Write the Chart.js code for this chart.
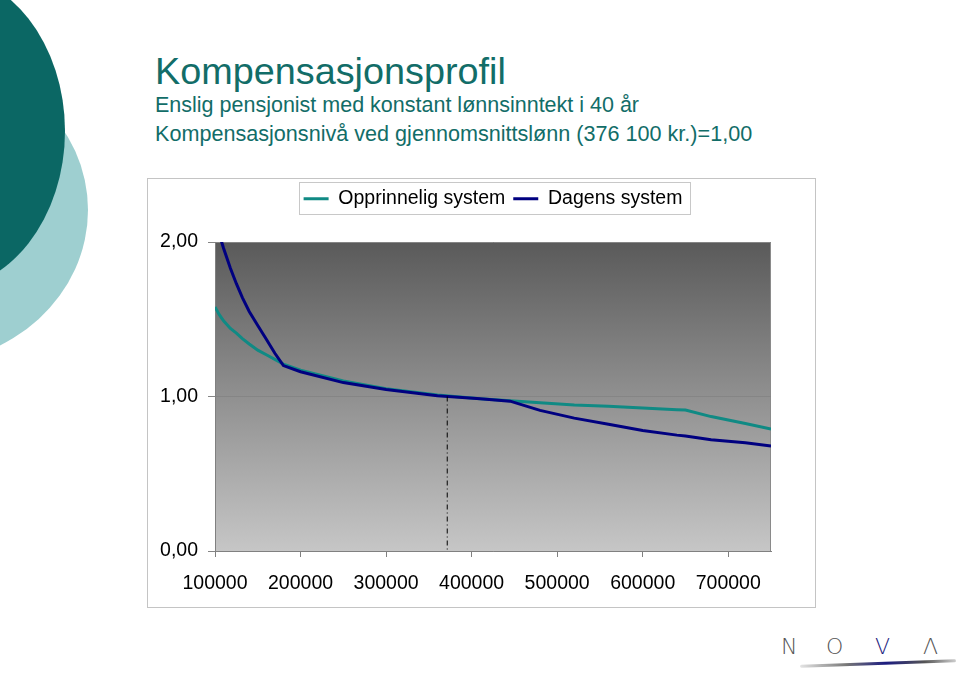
<!DOCTYPE html>
<html>
<head>
<meta charset="utf-8">
<script src="https://cdn.jsdelivr.net/npm/chart.js@4"></script>
<style>
  html, body { margin: 0; padding: 0; background: #fff; }
  body { width: 960px; height: 673px; position: relative; overflow: hidden; font-family: "Liberation Sans", Arial, sans-serif; }
  .blob { position: absolute; border-radius: 50%; }
  .txt { position: absolute; white-space: nowrap; line-height: 1; color: #126d68; }
  #chartBox { position: absolute; left: 147px; top: 178px; width: 667px; height: 428px; border: 1px solid #c4c4c4; }
  #logo { position: absolute; left: 778px; top: 632px; width: 180px; height: 40px; }
  #logo span { position: absolute; top: 4px; font-family: "DejaVu Sans", sans-serif; font-weight: 200; font-size: 22px; color: #555; line-height: 1; }
  #swoosh { position: absolute; left: 22px; top: 30px; width: 156px; height: 3px; border-radius: 2px;
    background: linear-gradient(to right, rgba(120,120,120,0.2), #777 30%, #1c1c80 55%, #555 80%, rgba(90,90,90,0.3)); transform: rotate(-2deg); }
</style>
</head>
<body>
<div class="blob" style="left:-248px; top:56px; width:336px; height:308px; background:#9ecfd0;"></div>
<div class="blob" style="left:-185px; top:-28px; width:250px; height:318px; background:#0b6764;"></div>

<div class="txt" style="left:155px; top:53px; font-size:37.8px;">Kompensasjonsprofil</div>
<div class="txt" style="left:155px; top:95px; font-size:21.5px;">Enslig pensjonist med konstant lønnsinntekt i 40 år</div>
<div class="txt" style="left:155px; top:123px; font-size:21.6px;">Kompensasjonsnivå ved gjennomsnittslønn (376 100 kr.)=1,00</div>

<div id="chartBox"><canvas id="chart" width="667" height="428"></canvas></div>

<div id="logo">
  <span style="left:3px;">N</span>
  <span style="left:48px;">O</span>
  <span style="left:97px; color:#1c1c80;">V</span>
  <span style="left:145px;">Λ</span>
  <div id="swoosh"></div>
</div>

<script>
// income levels (kr) and compensation levels
const income = [100000, 105000, 110000, 118000, 125000, 132000, 140000, 150000, 160000, 170000, 180000,
  200000, 250000, 300000, 360000, 410000, 445000, 480000, 520000, 560000, 600000, 640000, 650000,
  680000, 720000, 750000];
const opprinnelig = [1.58, 1.53, 1.49, 1.44, 1.41, 1.375, 1.34, 1.30, 1.27, 1.24, 1.21,
  1.17, 1.10, 1.05, 1.01, 0.985, 0.973, 0.96, 0.945, 0.937, 0.925, 0.915, 0.912,
  0.87, 0.825, 0.79];
const dagens = [2.13, 2.05, 1.96, 1.83, 1.73, 1.64, 1.55, 1.46, 1.37, 1.28, 1.20,
  1.16, 1.09, 1.045, 1.005, 0.985, 0.97, 0.91, 0.86, 0.82, 0.78, 0.75, 0.745,
  0.72, 0.70, 0.68];

// average wage marker (drawn where the picture puts it)
const avgWage = 371500;
const avgMarker = [1, 0];

const seriesNames = ['Opprinnelig system', 'Dagens system'];
const xTicks = [100000, 200000, 300000, 400000, 500000, 600000, 700000];
const yTicks = [0, 1, 2];

const FONT = '"Liberation Sans", Arial, sans-serif';

function toPoints(xs, ys) {
  return xs.map((x, i) => ({ x: x, y: ys[i] }));
}

// gray gradient behind the plot area + right edge
const plotBackground = {
  id: 'plotBackground',
  beforeDraw(chart) {
    const { ctx, chartArea: a } = chart;
    const g = ctx.createLinearGradient(0, a.top, 0, a.bottom);
    g.addColorStop(0, '#5a5a5a');
    g.addColorStop(1, '#c6c6c6');
    ctx.save();
    ctx.fillStyle = g;
    ctx.fillRect(a.left, a.top, a.right - a.left, a.bottom - a.top);
    ctx.strokeStyle = '#8a8a8a';
    ctx.lineWidth = 1;
    ctx.beginPath();
    ctx.moveTo(a.right - 0.5, a.top);
    ctx.lineTo(a.right - 0.5, a.bottom);
    ctx.stroke();
    ctx.restore();
  }
};

// thin frame around the legend
const legendFrame = {
  id: 'legendFrame',
  afterDraw(chart) {
    const boxes = chart.legend.legendHitBoxes;
    if (!boxes || !boxes.length) return;
    const { ctx } = chart;
    const left = Math.min(...boxes.map(b => b.left)) - 5;
    const right = Math.max(...boxes.map(b => b.left + b.width)) + 7;
    const top = boxes[0].top - 7;
    const bottom = boxes[0].top + boxes[0].height + 5;
    ctx.save();
    ctx.strokeStyle = '#c8c8c8';
    ctx.lineWidth = 1;
    ctx.strokeRect(Math.round(left) + 0.5, Math.round(top) + 0.5, Math.round(right - left), Math.round(bottom - top));
    ctx.restore();
  }
};

const chart = new Chart(document.getElementById('chart'), {
  type: 'line',
  data: {
    datasets: [
      {
        label: seriesNames[0],
        data: toPoints(income, opprinnelig),
        borderColor: '#108a84',
        backgroundColor: '#108a84',
        borderWidth: 3,
        pointRadius: 0,
        tension: 0,
        order: 2
      },
      {
        label: seriesNames[1],
        data: toPoints(income, dagens),
        borderColor: '#000080',
        backgroundColor: '#000080',
        borderWidth: 3,
        pointRadius: 0,
        tension: 0,
        order: 1
      },
      {
        label: 'gjennomsnittslønn',
        data: avgMarker.map(v => ({ x: avgWage, y: v })),
        borderColor: '#000',
        borderWidth: 1,
        borderDash: [5, 3, 1, 3],
        pointRadius: 0,
        order: 0
      }
    ]
  },
  options: {
    responsive: false,
    animation: false,
    layout: { padding: { top: 2, right: 44, left: 0, bottom: 0 } },
    plugins: {
      legend: {
        position: 'top',
        fullSize: false,
        labels: {
          font: { family: FONT, size: 19.5 },
          color: '#000',
          usePointStyle: true,
          pointStyle: 'line',
          pointStyleWidth: 25,
          padding: 8,
          filter: item => item.datasetIndex < 2,
          sort: (a, b) => a.datasetIndex - b.datasetIndex
        }
      },
      // empty spacer between legend and plot
      subtitle: {
        display: true,
        text: '',
        weight: 500,
        font: { size: 10 },
        padding: { top: 0, bottom: 11.5 }
      },
      tooltip: { enabled: false }
    },
    scales: {
      x: {
        type: 'linear',
        min: income[0],
        max: income[income.length - 1],
        afterFit: s => { s.height = 56; },
        afterBuildTicks: s => { s.ticks = xTicks.map(v => ({ value: v })); },
        ticks: {
          autoSkip: false,
          maxRotation: 0,
          padding: 15,
          color: '#000',
          font: { family: FONT, size: 19.5 },
          callback: v => String(v)
        },
        grid: { drawOnChartArea: false, color: '#808080', tickLength: 6 },
        border: { color: '#808080' }
      },
      y: {
        min: yTicks[0],
        max: yTicks[yTicks.length - 1],
        afterFit: s => { s.width = 67; },
        afterBuildTicks: s => { s.ticks = yTicks.map(v => ({ value: v })); },
        ticks: {
          padding: 10,
          color: '#000',
          font: { family: FONT, size: 19.5 },
          callback: v => v.toFixed(2).replace('.', ',')
        },
        grid: { color: '#858585', tickLength: 7 },
        border: { color: '#808080' }
      }
    }
  },
  plugins: [plotBackground, legendFrame]
});
</script>
</body>
</html>
